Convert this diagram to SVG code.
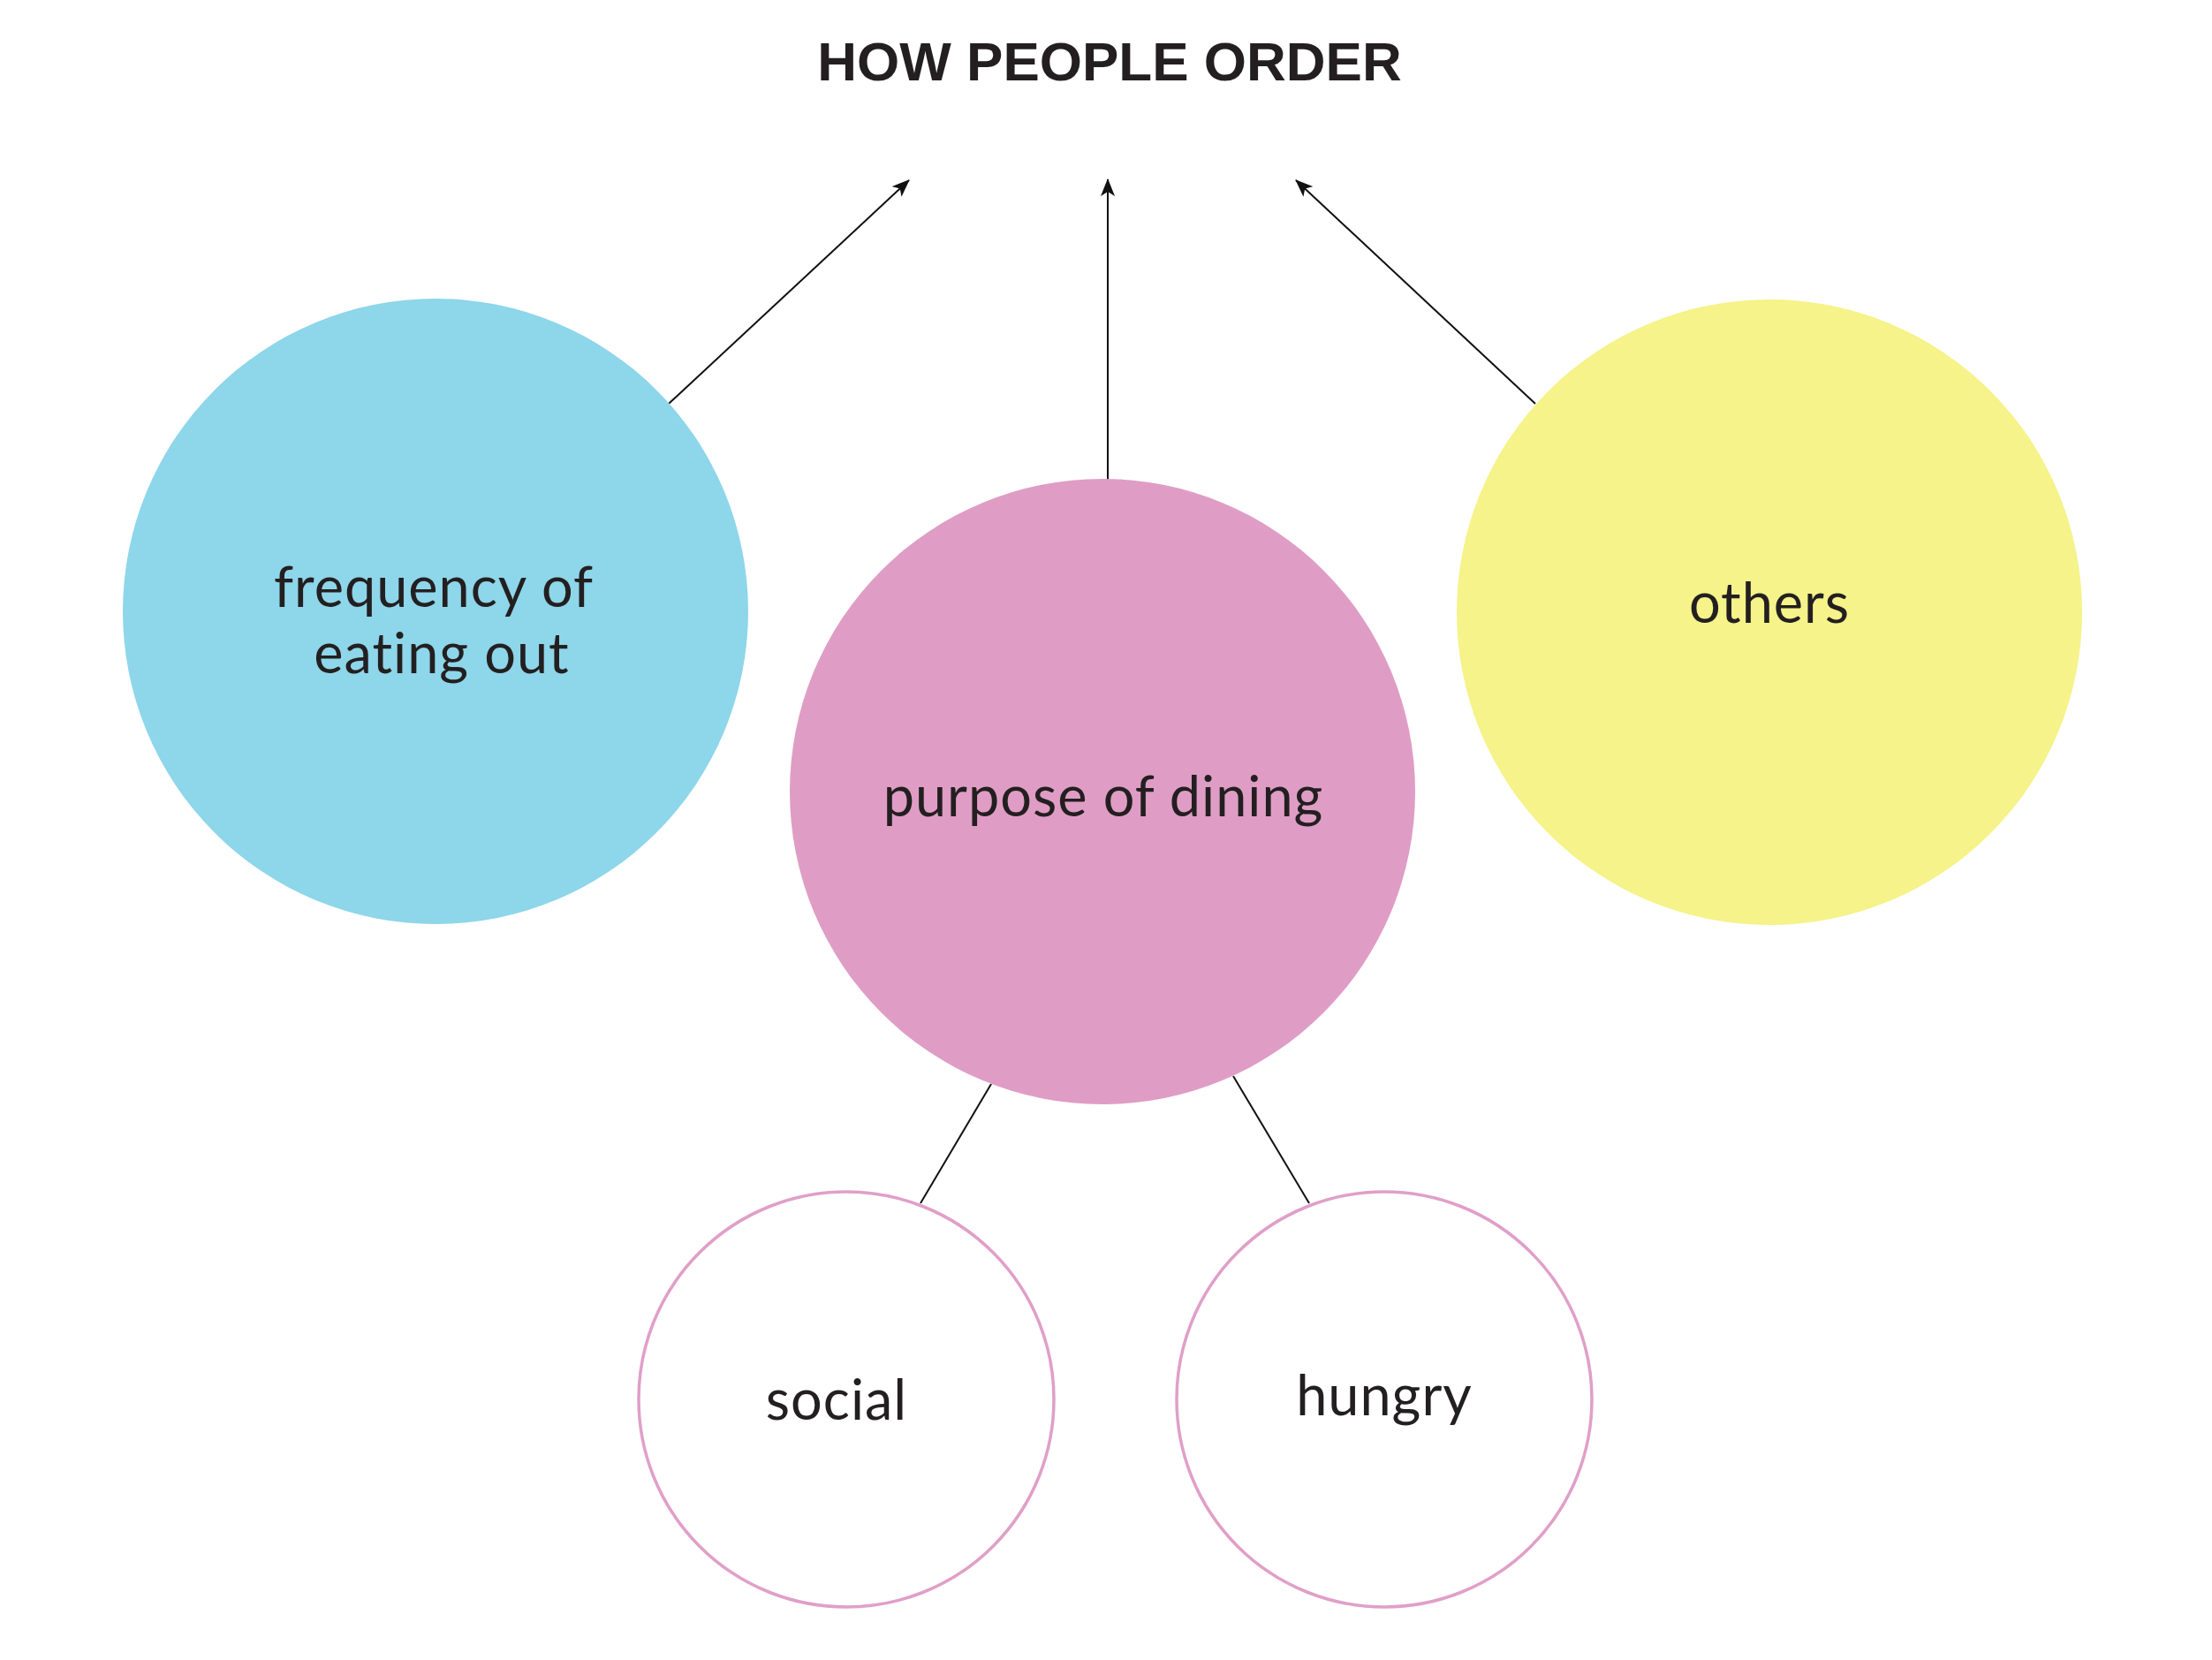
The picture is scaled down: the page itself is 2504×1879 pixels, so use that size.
<svg xmlns="http://www.w3.org/2000/svg" width="2504" height="1879" viewBox="0 0 2504 1879">
  <style>
    .title { font-family: "Liberation Sans", Arial, sans-serif; font-weight: bold; font-size: 62px; fill: #231f20; }
    .label { font-family: Lato, "Noto Sans", sans-serif; font-size: 63px; fill: #231f20; letter-spacing: 1px; font-variant-ligatures: none; }
    .link { stroke: #111111; stroke-width: 2; fill: none; }
    .sub { fill: #ffffff; stroke: #e09fc8; stroke-width: 3.5; }
  </style>
  <defs>
    <marker id="head" viewBox="0 0 20 16" refX="19" refY="8" markerWidth="20" markerHeight="16" markerUnits="userSpaceOnUse" orient="auto">
      <path d="M0,0 L20,8 L0,16 L5,8 Z" fill="#111111"/>
    </marker>
  </defs>
  <rect width="2504" height="1879" fill="#ffffff"/>

  <text class="title" x="1256" y="91" text-anchor="middle">HOW PEOPLE ORDER</text>

  <g id="connectors">
    <line class="link" x1="757" y1="457" x2="1029" y2="204" marker-end="url(#head)"/>
    <line class="link" x1="1254" y1="543" x2="1254" y2="203" marker-end="url(#head)"/>
    <line class="link" x1="1738" y1="457" x2="1467" y2="204" marker-end="url(#head)"/>
    <line class="link" x1="1122" y1="1227" x2="1042" y2="1362"/>
    <line class="link" x1="1396" y1="1218" x2="1482" y2="1362"/>
  </g>

  <g id="frequency">
    <circle cx="493" cy="692" r="354" fill="#8ed6ea"/>
    <text class="label" text-anchor="middle"><tspan x="491" y="687">frequency of</tspan><tspan x="500" y="762">eating out</tspan></text>
  </g>

  <g id="purpose">
    <circle cx="1248" cy="896" r="354" fill="#df9dc5"/>
    <text class="label" x="1249" y="924" text-anchor="middle">purpose of dining</text>
  </g>

  <g id="others">
    <circle cx="2003" cy="693" r="354" fill="#f5f389"/>
    <text class="label" x="2003" y="705" text-anchor="middle">others</text>
  </g>

  <g id="social">
    <circle class="sub" cx="958" cy="1584" r="235"/>
    <text class="label" x="947" y="1607" text-anchor="middle">social</text>
  </g>

  <g id="hungry">
    <circle class="sub" cx="1567" cy="1584" r="235"/>
    <text class="label" x="1567" y="1602" text-anchor="middle">hungry</text>
  </g>
</svg>
